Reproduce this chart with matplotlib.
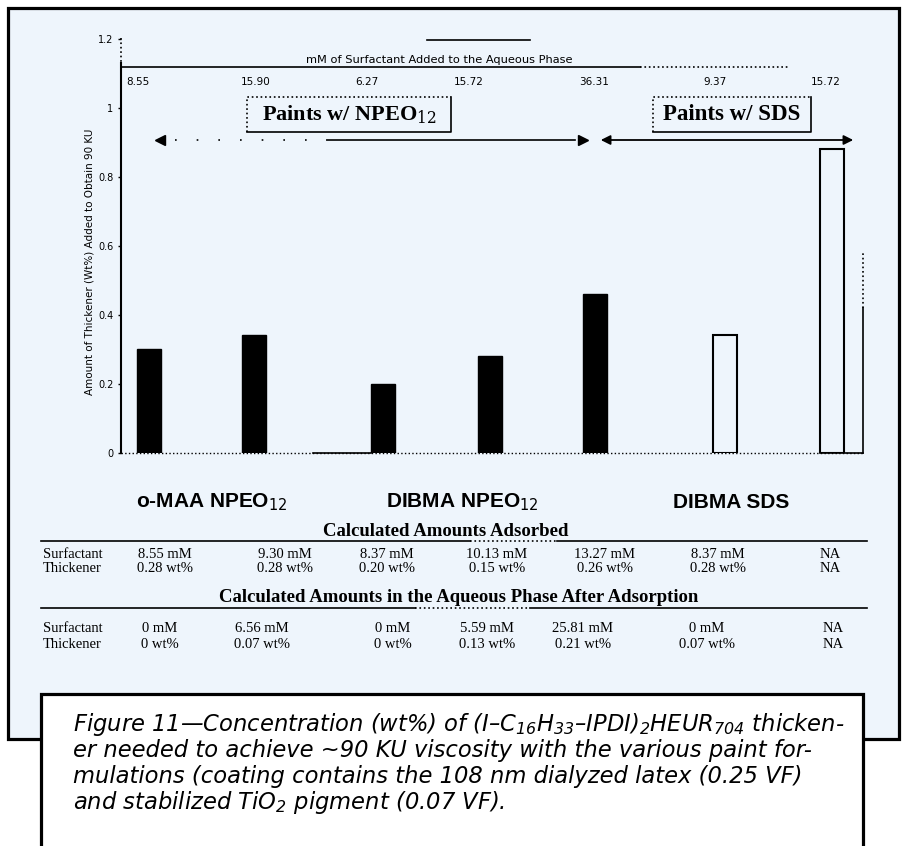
import matplotlib.pyplot as plt
from matplotlib.patches import Rectangle

plt.rcParams['mathtext.fontset'] = 'custom'
plt.rcParams['mathtext.rm'] = 'DejaVu Sans:italic'
plt.rcParams['mathtext.it'] = 'DejaVu Sans:italic'

# bar data (wt% thickener needed for ~90 KU)
bar_vals = [0.30, 0.34, 0.20, 0.28, 0.46, 0.34, 0.88]
bar_pos = [0.28, 1.33, 2.615, 3.685, 4.74, 6.04, 7.105]
bar_filled = [True, True, True, True, True, False, False]

# mM of surfactant added (top row)
surf_added = ['8.55', '15.90', '6.27', '15.72', '36.31', '9.37', '15.72']
surf_added_x = [138, 256, 367, 469, 594, 715, 826]

groups = ['o-MAA NPEO$_{12}$', 'DIBMA NPEO$_{12}$', 'DIBMA SDS']
groups_x = [212, 462, 731]

ads_surf = ['8.55 mM', '9.30 mM', '8.37 mM', '10.13 mM', '13.27 mM', '8.37 mM', 'NA']
ads_thick = ['0.28 wt%', '0.28 wt%', '0.20 wt%', '0.15 wt%', '0.26 wt%', '0.28 wt%', 'NA']
aq_surf = ['0 mM', '6.56 mM', '0 mM', '5.59 mM', '25.81 mM', '0 mM', 'NA']
aq_thick = ['0 wt%', '0.07 wt%', '0 wt%', '0.13 wt%', '0.21 wt%', '0.07 wt%', 'NA']
ads_x = [165, 285, 387, 497, 605, 718, 830]
aq_x = [160, 262, 393, 487, 583, 707, 833]

yticks = [0, 0.2, 0.4, 0.6, 0.8, 1.0, 1.2]
ytick_labels = ['0', '0.2', '0.4', '0.6', '0.8', '1', '1.2']

caption = ['Figure 11\u2014Concentration (wt%) of (I\u2013C$_{16}$H$_{33}$\u2013IPDI)$_2$HEUR$_{704}$ thicken-',
           'er needed to achieve ~90 KU viscosity with the various paint for-',
           'mulations (coating contains the 108 nm dialyzed latex (0.25 VF)',
           'and stabilized TiO$_2$ pigment (0.07 VF).']

bg = '#eef5fc'
serif = 'Liberation Serif'

fig = plt.figure(figsize=(9.02, 8.46), dpi=100)
fig.patch.set_facecolor('white')

# overlay in pixel coords for frame, annotations and table
ov = fig.add_axes([0, 0, 1, 1], zorder=0)
ov.set_xlim(0, 902)
ov.set_ylim(846, 0)
ov.axis('off')

ov.add_patch(Rectangle((8, 8), 891, 731, fc=bg, ec='black', lw=2.3))
ov.add_patch(Rectangle((41, 694), 822, 170, fc='white', ec='black', lw=2.3))

# main chart
ax = fig.add_axes([121 / 902, (846 - 452.7) / 846, 760 / 902, 414 / 846], zorder=1)
ax.patch.set_alpha(0)
for x, v, f in zip(bar_pos, bar_vals, bar_filled):
    if f:
        ax.bar(x, v, width=0.24, color='black', edgecolor='black', lw=1)
    else:
        ax.bar(x, v, width=0.24, facecolor='none', edgecolor='black', lw=1.5)
ax.set_xlim(0, 7.6)
ax.set_ylim(0, 1.2)
for s in ['top', 'right', 'bottom']:
    ax.spines[s].set_visible(False)
ax.spines['left'].set_linewidth(1.5)
ax.spines['left'].set_bounds(0, 1.13)
ax.set_xticks([])
ax.set_yticks(yticks)
ax.set_yticklabels(ytick_labels, fontsize=7)
ax.tick_params(axis='y', direction='out', length=2.5, width=1, pad=3)
ov.text(90, 262, 'Amount of Thickener (Wt%) Added to Obtain 90 KU', fontsize=7.5,
        rotation=90, ha='center', va='center')

# scan remnants: dotted axis top, baseline, right edge
ov.plot([121, 121], [38, 63], ls=':', color='black', lw=1.2)
ov.plot([121, 863], [452.7, 452.7], ls=':', color='black', lw=1)
ov.plot([313, 371], [452.7, 452.7], color='black', lw=1.2)
ov.plot([820, 863], [452.7, 452.7], color='black', lw=1.2)
ov.plot([863, 863], [452.7, 308], color='black', lw=1.2)
ov.plot([863, 863], [308, 252], ls=':', color='black', lw=1.2)

# mM of surfactant header
ov.plot([427, 530], [40, 40], color='black', lw=1.2)
ov.text(439, 60, 'mM of Surfactant Added to the Aqueous Phase', fontsize=8.2, ha='center', va='center')
ov.plot([121, 640], [67, 67], color='black', lw=1.2)
ov.plot([640, 790], [67, 67], ls=':', color='black', lw=1.2)
for x, t in zip(surf_added_x, surf_added):
    ov.text(x, 82, t, fontsize=7.5, ha='center', va='center')

# paint boxes
ov.plot([247, 247, 451], [132, 97, 97], ls=':', color='black', lw=1.2)
ov.plot([247, 451, 451], [132, 132, 97], color='black', lw=1.2)
ov.text(349, 115, 'Paints w/ NPEO$_{12}$', fontsize=16, fontweight='bold', family=serif,
        ha='center', va='center', math_fontfamily='dejavuserif')
ov.plot([653, 653, 811], [132, 97, 97], ls=':', color='black', lw=1.2)
ov.plot([653, 811, 811], [132, 132, 97], color='black', lw=1.2)
ov.text(732, 115, 'Paints w/ SDS', fontsize=16.5, fontweight='bold', family=serif,
        ha='center', va='center')

# arrows
ov.plot([160], [140], marker='<', ms=7, color='black')
ov.plot([175, 327], [140, 140], ls=(0, (1, 12)), color='black', lw=1.2)
ov.plot([327, 575], [140, 140], color='black', lw=1.2)
ov.plot([583], [140], marker='>', ms=7, color='black')
ov.annotate('', xy=(856, 140), xytext=(598, 140),
            arrowprops=dict(arrowstyle='<|-|>', color='black', lw=1.3, mutation_scale=14))

# group labels
for x, t in zip(groups_x, groups):
    ov.text(x, 502, t, fontsize=15, fontweight='bold', family='Liberation Sans',
            ha='center', va='center', math_fontfamily='dejavusans')

# table
ov.text(446, 531, 'Calculated Amounts Adsorbed', fontsize=13.5, fontweight='bold', family=serif,
        ha='center', va='center')
ov.plot([41, 470], [541, 541], color='black', lw=1.2)
ov.plot([470, 557], [541, 541], ls=':', color='black', lw=1.2)
ov.plot([557, 867], [541, 541], color='black', lw=1.2)
ov.text(43, 554, 'Surfactant', fontsize=10.5, family=serif, va='center')
ov.text(43, 569, 'Thickener', fontsize=10.5, family=serif, va='center')
for x, a, b in zip(ads_x, ads_surf, ads_thick):
    ov.text(x, 554, a, fontsize=10.5, family=serif, ha='center', va='center')
    ov.text(x, 569, b, fontsize=10.5, family=serif, ha='center', va='center')

ov.text(459, 597, 'Calculated Amounts in the Aqueous Phase After Adsorption', fontsize=13.5,
        fontweight='bold', family=serif, ha='center', va='center')
ov.plot([41, 415], [608, 608], color='black', lw=1.2)
ov.plot([415, 530], [608, 608], ls=':', color='black', lw=1.2)
ov.plot([530, 867], [608, 608], color='black', lw=1.2)
ov.text(43, 629, 'Surfactant', fontsize=10.5, family=serif, va='center')
ov.text(43, 644, 'Thickener', fontsize=10.5, family=serif, va='center')
for x, a, b in zip(aq_x, aq_surf, aq_thick):
    ov.text(x, 629, a, fontsize=10.5, family=serif, ha='center', va='center')
    ov.text(x, 644, b, fontsize=10.5, family=serif, ha='center', va='center')

# caption
for i, line in enumerate(caption):
    ov.text(73, 724 + i * 26, line, fontsize=16.3, style='italic', family='DejaVu Sans',
            va='center', math_fontfamily='custom')

fig.savefig('out.png', dpi=100)
